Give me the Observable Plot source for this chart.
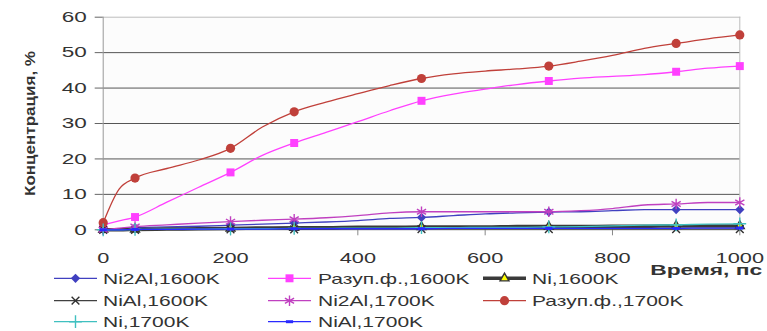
<!DOCTYPE html>
<html><head><meta charset="utf-8">
<script src="https://cdn.jsdelivr.net/npm/d3@7"></script>
<script src="https://cdn.jsdelivr.net/npm/@observablehq/plot@0.6"></script>
<style>
html,body{margin:0;padding:0;background:#fff;}
#wrap{position:relative;width:767px;height:331px;overflow:hidden;font-family:"Liberation Sans",Arial,sans-serif;}
#legend{position:absolute;left:0;top:262px;}
</style></head>
<body><div id="wrap"><div id="chart"></div><div id="legend"></div></div>
<script>
// ---- data ----
const times = [0,25,50,100,150,200,250,300,350,400,450,500,550,600,650,700,750,800,850,900,950,1000];
const markerTimes = [0,50,200,300,500,700,900,1000];
const xTicks = [0,200,400,600,800,1000];
const yTicks = [0,10,20,30,40,50,60];
const seriesNames = ["Ni2Al,1600K","Разуп.ф.,1600K","Ni,1600K","NiAl,1600K","Ni2Al,1700K","Разуп.ф.,1700K","Ni,1700K","NiAl,1700K"];
const ni2al1600  = [0,0.3,0.6,0.8,1.0,1.3,1.6,1.9,2.2,2.6,3.2,3.5,4.0,4.5,4.8,5.0,5.1,5.4,5.7,5.7,5.7,5.7];
const disord1600 = [1.4,2.5,3.6,7.8,12.0,16.2,21.0,24.5,27.5,30.5,33.6,36.4,38.3,39.7,41.0,42.0,42.8,43.3,43.8,44.6,45.6,46.2];
const ni1600     = [0,0,0.1,0.2,0.3,0.4,0.5,0.6,0.6,0.7,0.7,0.8,0.8,0.8,0.9,0.9,0.9,1.0,1.0,1.1,1.1,1.1];
const nial1600   = [0,0,0,0.1,0.1,0.1,0.1,0.1,0.1,0.2,0.2,0.2,0.2,0.2,0.2,0.2,0.2,0.2,0.2,0.2,0.2,0.2];
const ni2al1700  = [0,0.5,0.9,1.4,1.9,2.3,2.7,3.0,3.4,4.0,4.8,5.1,5.1,5.1,5.1,5.1,5.4,6.0,7.0,7.3,7.7,7.7];
const disord1700 = [2.0,11.5,14.6,17.3,19.7,23.0,29.0,33.3,36.0,38.4,40.7,42.7,44.0,44.8,45.4,46.2,47.6,49.2,51.2,52.6,53.9,55.0];
const ni1700     = [0,0,0.1,0.2,0.2,0.3,0.3,0.4,0.4,0.5,0.5,0.6,0.6,0.7,0.7,0.8,0.9,1.1,1.3,1.4,1.6,1.7];
const nial1700   = [0,0,0.1,0.1,0.2,0.2,0.2,0.3,0.3,0.3,0.3,0.3,0.4,0.4,0.4,0.4,0.4,0.4,0.4,0.4,0.5,0.5];
const seriesValues = [ni2al1600,disord1600,ni1600,nial1600,ni2al1700,disord1700,ni1700,nial1700];
const xLabel = "Время, пс";
const yLabel = "Концентрация, %";

// ---- styles ----
const dash = {draw(ctx, size){ const w = Math.sqrt(size)*0.45; ctx.moveTo(-w,0); ctx.lineTo(w,0); }};
const styles = [
  {color:"#4040c0", width:1.3, symbol:"diamond2", r:4.2, fill:"#4040c0", mstroke:"none"},
  {color:"#ff40ff", width:1.3, symbol:"square", r:4.5, fill:"#ff40ff", mstroke:"none"},
  {color:"#3a3a3a", width:3.5, symbol:"triangle", r:3.3, fill:"#ffff00", mstroke:"#333"},
  {color:"#404040", width:1.2, symbol:"times", r:3.6, fill:"none", mstroke:"#303030"},
  {color:"#c040c0", width:1.3, symbol:"asterisk", r:5, fill:"none", mstroke:"#c040c0"},
  {color:"#c0403a", width:1.3, symbol:"circle", r:4.6, fill:"#c0403a", mstroke:"none"},
  {color:"#40c0c0", width:1.3, symbol:"plus", r:4.2, fill:"none", mstroke:"#40c0c0"},
  {color:"#2a2aff", width:1.3, symbol:dash, r:4.5, fill:"none", mstroke:"#2a2aff", mwidth:3}
];

const rows = [];
seriesNames.forEach((name,i)=>times.forEach((t,j)=>rows.push({series:name, idx:i, t, v:seriesValues[i][j]})));

const marks = [
  Plot.frame({fill:"#fcfcfc", stroke:"none"}),
  Plot.frame({anchor:"top", stroke:"#bdbdbd"}),
  Plot.frame({anchor:"right", stroke:"#bdbdbd"}),
  Plot.gridY({ticks: yTicks.slice(1,-1), stroke:"#555", strokeOpacity:1}),
  Plot.frame({anchor:"left", stroke:"#999"}),
  Plot.frame({anchor:"bottom", stroke:"#999"}),
  Plot.axisY({ticks: yTicks, tickFormat:d=>String(d), tickSize:8, tickPadding:8.5, label:null, stroke:"#666", fontSize:15}),
  Plot.axisX({ticks: xTicks, tickFormat:d=>String(d), tickSize:6, tickPadding:17, label:null, stroke:"#888", fontSize:15}),
];
seriesNames.forEach((name,i)=>{
  const s = styles[i];
  const d = rows.filter(r=>r.idx===i);
  marks.push(Plot.line(d, {x:"t", y:"v", stroke:s.color, strokeWidth:s.width, curve:"monotone-x"}));
  marks.push(Plot.dot(d.filter(r=>markerTimes.includes(r.t)), {x:"t", y:"v", symbol:()=>s.symbol, r:s.r,
    fill:s.fill, stroke:s.mstroke, strokeWidth:s.mwidth||1.4}));
});
marks.push(Plot.text([xLabel], {text:d=>d, frameAnchor:"bottom-right", textAnchor:"end", dx:22.4, dy:45, fontWeight:"bold", fontSize:14.5, fill:"#333"}));
marks.push(Plot.text([yLabel], {text:d=>d, frameAnchor:"left", textAnchor:"middle", rotate:-90, dx:-72.7, dy:0, fontWeight:"bold", fontSize:14, fill:"#333"}));

const chart = Plot.plot({
  width:767, height:290,
  marginLeft:102.7, marginRight:27.7, marginTop:16.7, marginBottom:60.7,
  style:{fontFamily:'"Liberation Sans", Arial, sans-serif', fontSize:"15px", color:"#333", background:"white"},
  x:{domain:[0,1000]},
  y:{domain:[0,60]},
  marks
});
document.getElementById("chart").appendChild(chart);

function stretch(el, factor){
  const len = el.getComputedTextLength();
  if (!len) return;
  el.setAttribute("textLength", len*factor);
  el.setAttribute("lengthAdjust","spacingAndGlyphs");
}
function stretchTo(el, target){
  el.setAttribute("textLength", target);
  el.setAttribute("lengthAdjust","spacingAndGlyphs");
}
chart.querySelectorAll('[aria-label="y-axis tick label"] text').forEach(t=>stretch(t,1.5));
chart.querySelectorAll('[aria-label="x-axis tick label"] text').forEach(t=>stretch(t,1.45));
const texts = chart.querySelectorAll('g[aria-label="text"] text');
texts.forEach(t=>{
  if (t.textContent===xLabel) stretchTo(t,112);
  else if (t.textContent===yLabel) stretchTo(t,145);
});

// ---- legend ----
const legW = 767, legH = 69;
const colLine = [54, 268, 483], colText = [103, 318, 532], rowY = [16.3, 38.7, 59.7];
const svg = d3.select("#legend").append("svg").attr("width",legW).attr("height",legH)
  .style("font-family",'"Liberation Sans", Arial, sans-serif');
const symMap = {diamond2:d3.symbolDiamond2, square:d3.symbolSquare, triangle:d3.symbolTriangle, times:d3.symbolTimes,
  asterisk:d3.symbolAsterisk, circle:d3.symbolCircle, plus:d3.symbolPlus};
seriesNames.forEach((name,i)=>{
  const s = styles[i];
  const col = i%3, row = Math.floor(i/3);
  const x0 = colLine[col], y = rowY[row];
  const g = svg.append("g");
  g.append("line").attr("x1",x0).attr("x2",x0+43).attr("y1",y).attr("y2",y)
    .attr("stroke",s.color).attr("stroke-width",s.width);
  const type = typeof s.symbol === "string" ? symMap[s.symbol] : s.symbol;
  g.append("path").attr("transform",`translate(${x0+21.5},${y})`)
    .attr("d", d3.symbol(type, Math.PI*s.r*s.r)())
    .attr("fill",s.fill).attr("stroke",s.mstroke).attr("stroke-width",s.mwidth||1.4);
  const t = g.append("text").attr("x",colText[col]).attr("y",y).attr("dy","0.35em")
    .attr("font-size",15).attr("fill","#333").text(name);
  stretch(t.node(),1.4);
});
</script>
</body></html>
